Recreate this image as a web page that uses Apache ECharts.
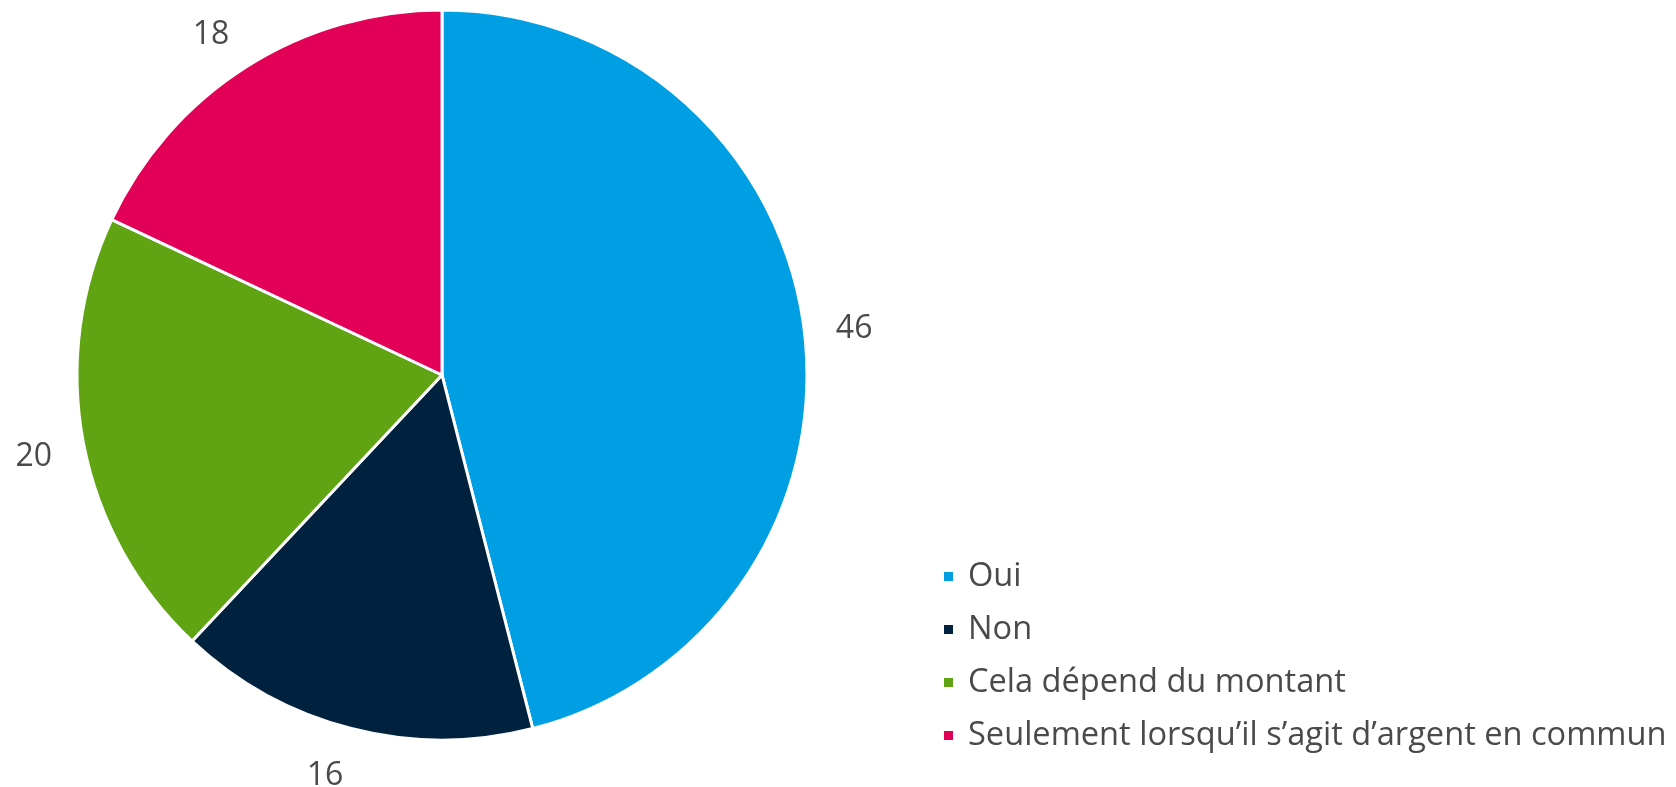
<!DOCTYPE html>
<html>
<head>
<meta charset="utf-8">
<script src="https://cdn.jsdelivr.net/npm/echarts@6/dist/echarts.min.js"></script>
<style>
  html, body { margin: 0; padding: 0; background: #fff; }
  #chart { width: 1676px; height: 787px; }
</style>
</head>
<body>
<div id="chart"></div>
<script>
const categories = ['Oui', 'Non', 'Cela dépend du montant', "Seulement lorsqu’il s’agit d’argent en commun"];
const values = [46, 16, 20, 18];
const colors = ['#009fe3', '#00223f', '#60a414', '#e30057'];

const pieData = categories.map((name, i) => ({ name, value: values[i], itemStyle: { color: colors[i] } }));

const chart = echarts.init(document.getElementById('chart'));
const textColor = '#4a4a4a';
const font = 'Open Sans';
const cx = 442, cy = 375;

chart.setOption({
  animation: false,
  legend: {
    orient: 'vertical',
    left: 937,
    top: 555,
    icon: 'rect',
    itemWidth: 11,
    itemHeight: 11,
    itemGap: 20,
    data: categories,
    textStyle: { color: textColor, fontSize: 32.6, fontFamily: font, lineHeight: 32, padding: [0, 0, 0, 9] }
  },
  series: [
    {
      type: 'pie',
      center: [cx, cy],
      radius: 365,
      startAngle: 90,
      clockwise: true,
      silent: true,
      data: pieData,
      itemStyle: { borderColor: '#fff', borderWidth: 3 },
      label: {
        show: true,
        position: 'outside',
        formatter: '{c}',
        color: textColor,
        fontSize: 32,
        fontFamily: font,
        distanceToLabelLine: 0
      },
      labelLine: { show: false, length: 32, length2: 0 },
      // push labels away vertically like the "outside end" placement
      labelLayout: function (p) {
        const r = p.labelRect;
        const ax = (r.x + r.width / 2 > cx) ? r.x : r.x + r.width;
        const ay = r.y + r.height / 2;
        const vx = ax - cx, vy = ay - cy;
        const len = Math.sqrt(vx * vx + vy * vy);
        return { dy: 5 + 0.36 * r.height * vy / len };
      }
    }
  ]
});
</script>
</body>
</html>
